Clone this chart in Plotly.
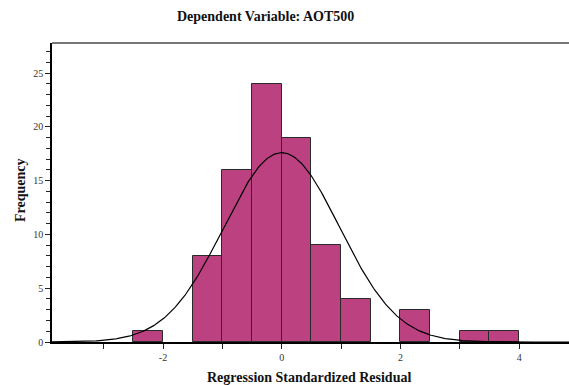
import numpy as np
import plotly.graph_objects as go

# Histogram data (bin left edges, width 0.5)
bin_left = [-2.5, -1.5, -1.0, -0.5, 0.0, 0.5, 1.0, 2.0, 3.0, 3.5]
counts = [1, 8, 16, 24, 19, 9, 4, 3, 1, 1]
bin_width = 0.5
curve_mean = 0.0
curve_sd = 0.975
n_total = sum(counts)

x_tickvals = [-2, 0, 2, 4]
y_tickvals = [0, 5, 10, 15, 20, 25]

centers = [b + bin_width / 2 for b in bin_left]
xs = np.linspace(-3.9, 4.9, 400)
ys = n_total * bin_width * np.exp(-0.5 * ((xs - curve_mean) / curve_sd) ** 2) / (curve_sd * np.sqrt(2 * np.pi))

fig = go.Figure()
fig.add_trace(go.Bar(x=centers, y=counts, width=bin_width,
                     marker=dict(color="#BC4180", line=dict(color="#2a2a2a", width=1)),
                     hoverinfo="skip"))
fig.add_trace(go.Scatter(x=xs, y=ys, mode="lines", line=dict(color="black", width=1.2),
                         hoverinfo="skip"))

font_fam = "Liberation Serif, Times New Roman, serif"
fig.update_layout(
    width=569, height=385,
    margin=dict(l=52, r=0, t=43, b=43),
    paper_bgcolor="white", plot_bgcolor="white",
    showlegend=False, bargap=0,
    font=dict(family=font_fam, color="#222"),
    xaxis=dict(range=[-3.87, 4.84], tickvals=x_tickvals, ticktext=[str(v) for v in x_tickvals],
               ticks="outside", ticklen=5, tickcolor="#222", showgrid=False, zeroline=False,
               showline=True, linecolor="black", linewidth=1.5,
               minor=dict(dtick=1, tick0=0, ticks="outside", ticklen=5, tickcolor="#222"),
               tickfont=dict(size=10, family=font_fam, color="#333")),
    yaxis=dict(range=[0, 27.79], tickvals=y_tickvals, ticktext=[str(v) for v in y_tickvals],
               ticks="outside", ticklen=5, tickcolor="#222", showgrid=False, zeroline=False,
               showline=True, linecolor="black", linewidth=1.5,
               minor=dict(dtick=1, tick0=0, ticks="outside", ticklen=4, tickcolor="#222"),
               tickfont=dict(size=10, family=font_fam, color="#333")),
    shapes=[dict(type="line", xref="paper", yref="paper", x0=0, x1=1, y0=1, y1=1,
                 line=dict(color="#777", width=2))],
    annotations=[
        dict(text="<b>Dependent Variable: AOT500</b>", xref="paper", yref="paper",
             x=(265 - 52) / 517, y=1 + (43 - 16) / 299, showarrow=False,
             xanchor="center", yanchor="middle", font=dict(size=14, family=font_fam, color="#111")),
        dict(text="<b>Regression Standardized Residual</b>", xref="paper", yref="paper",
             x=(309 - 52) / 517, y=-(377 - 342) / 299, showarrow=False,
             xanchor="center", yanchor="middle", font=dict(size=14, family=font_fam, color="#111")),
        dict(text="<b>Frequency</b>", xref="paper", yref="paper",
             x=-(52 - 20) / 517, y=(342 - 190) / 299, showarrow=False, textangle=-90,
             xanchor="center", yanchor="middle", font=dict(size=14, family=font_fam, color="#111")),
    ],
)

fig.write_html("out.html", config={"displayModeBar": False},
               post_script="document.body.style.margin='0';")
